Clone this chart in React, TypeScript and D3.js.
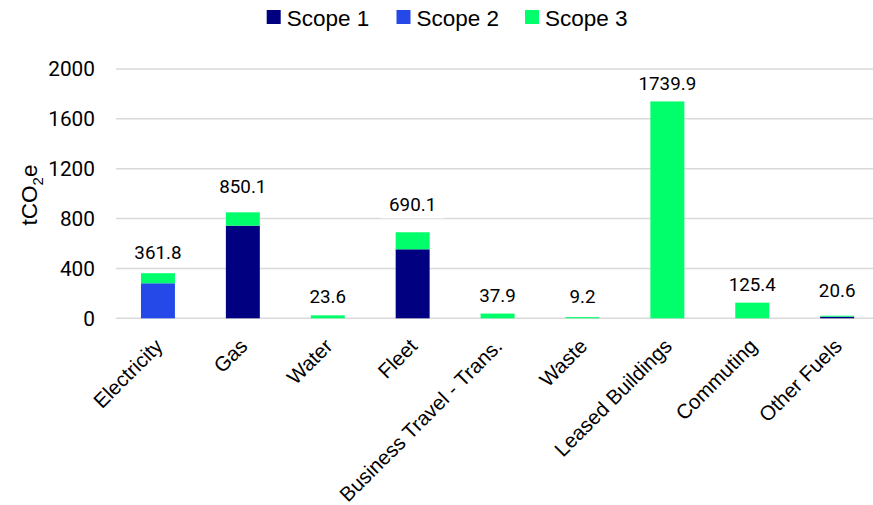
import React from "react";
import * as d3 from "d3";

// Emissions by source, tCO2e
const categories = [
  "Electricity",
  "Gas",
  "Water",
  "Fleet",
  "Business Travel - Trans.",
  "Waste",
  "Leased Buildings",
  "Commuting",
  "Other Fuels",
];
const scope1 = [0, 743.0, 0, 553.5, 0, 0, 0, 0, 13.0];
const scope2 = [281.0, 0, 0, 0, 0, 0, 0, 0, 0];
const scope3 = [80.8, 107.1, 23.6, 136.6, 37.9, 9.2, 1739.9, 125.4, 7.6];
const totals = [361.8, 850.1, 23.6, 690.1, 37.9, 9.2, 1739.9, 125.4, 20.6];
const yTicks = [0, 400, 800, 1200, 1600, 2000];
const seriesNames = ["Scope 1", "Scope 2", "Scope 3"];

const COLORS = ["#000080", "#2449E8", "#00FF6B"];
const GRID = "#D9D9D9";
const NUM_FONT = "Roboto, 'Noto Sans', sans-serif";
const TEXT_FONT = "'Liberation Sans', Arial, sans-serif";

// distance (px) from bar top to label baseline, per category
const labelLift: Record<string, number> = {
  Electricity: 14,
  Gas: 19.5,
  Water: 12,
  Fleet: 21.5,
  "Business Travel - Trans.": 12,
  Waste: 14.5,
  "Leased Buildings": 11,
  Commuting: 11.5,
  "Other Fuels": 19,
};

const W = 873;
const H = 505;

export default function App() {
  const x = d3
    .scaleBand<string>()
    .domain(categories)
    .range([115.5, 879.6])
    .paddingInner(0.6)
    .paddingOuter(0.3);
  const y = d3.scaleLinear().domain([0, 2000]).range([318.3, 69]);

  const rows = categories.map((c, i) => ({
    cat: c,
    "Scope 1": scope1[i],
    "Scope 2": scope2[i],
    "Scope 3": scope3[i],
  }));
  const stacked = d3.stack<any>().keys(seriesNames)(rows);

  const labelFs = 18.8;
  const estWidth = (s: string) =>
    s.split("").reduce((a, ch) => a + (ch === "." ? 0.263 : 0.5615), 0) * labelFs;

  const legendX = [266.7, 396.5, 525];

  return (
    <svg
      width={W}
      height={H}
      style={{ position: "absolute", left: 0, top: 0, background: "#fff" }}
      fontFamily={NUM_FONT}
    >
      <rect width={W} height={H} fill="#fff" />
      {/* legend */}
      {seriesNames.map((s, i) => (
        <g key={s} transform={`translate(${legendX[i]},0)`}>
          <rect x={0} y={10} width={14} height={14} fill={COLORS[i]} />
          <text x={20} y={25.5} fontSize={22.5} fontFamily={TEXT_FONT} fill="#000">
            {s}
          </text>
        </g>
      ))}

      {/* gridlines */}
      {yTicks.map((t) => (
        <line
          key={t}
          x1={116}
          x2={W}
          y1={y(t)}
          y2={y(t)}
          stroke={GRID}
          strokeWidth={1.5}
        />
      ))}

      {/* y tick labels */}
      {yTicks.map((t) => (
        <text
          key={t}
          x={95}
          y={y(t)}
          dy="0.36em"
          textAnchor="end"
          fontSize={20.8}
          fill="#000"
        >
          {t}
        </text>
      ))}

      {/* y axis title */}
      <text
        transform="translate(37,195) rotate(-90)"
        textAnchor="middle"
        fontSize={22.5}
        fontFamily={TEXT_FONT}
        fill="#000"
      >
        tCO
        <tspan fontSize={15} dy={6}>
          2
        </tspan>
        <tspan dy={-6}>e</tspan>
      </text>

      {/* stacked bars */}
      {stacked.map((layer, si) => (
        <g key={layer.key} fill={COLORS[si]}>
          {layer.map((d, i) => {
            const h = y(d[0]) - y(d[1]);
            if (h <= 0) return null;
            return (
              <rect
                key={i}
                x={x(categories[i])}
                y={y(d[1])}
                width={x.bandwidth()}
                height={h}
              />
            );
          })}
        </g>
      ))}

      {/* total labels with white boxes */}
      {categories.map((c, i) => {
        const cx = (x(c) as number) + x.bandwidth() / 2;
        const by = y(totals[i]) - labelLift[c];
        const txt = totals[i].toFixed(1);
        const bw = estWidth(txt) + 17;
        return (
          <g key={c}>
            <rect x={cx - bw / 2} y={by - 20} width={bw} height={27.5} fill="#fff" />
            <text x={cx} y={by} textAnchor="middle" fontSize={labelFs} fill="#000">
              {txt}
            </text>
          </g>
        );
      })}

      {/* category labels */}
      {categories.map((c) => {
        const cx = (x(c) as number) + x.bandwidth() / 2;
        return (
          <text
            key={c}
            transform={`translate(${cx + 6},347.5) rotate(-45)`}
            textAnchor="end"
            fontSize={20.5}
            fontFamily={TEXT_FONT}
            fill="#000"
          >
            {c}
          </text>
        );
      })}
    </svg>
  );
}
